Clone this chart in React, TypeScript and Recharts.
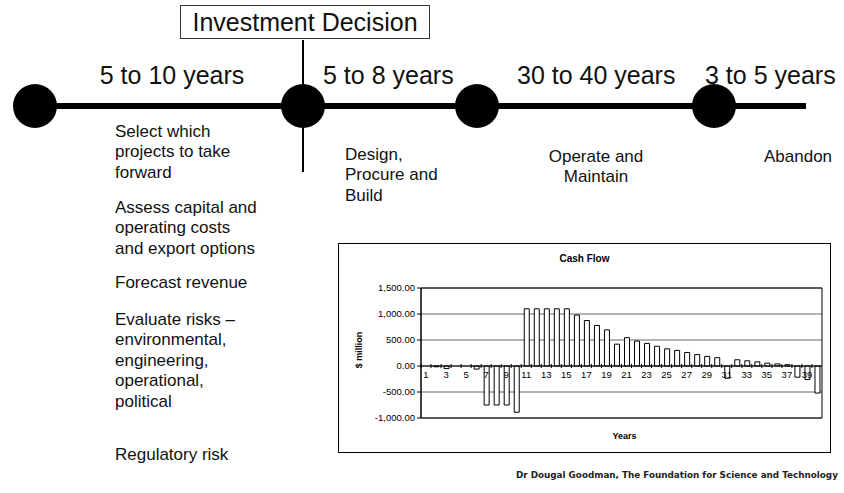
import { BarChart, Bar, XAxis, YAxis, CartesianGrid, ReferenceLine, ReferenceArea } from 'recharts';

// years 1..40 of the project life
const years = [
  '1', '2', '3', '4', '5', '6', '7', '8', '9', '10',
  '11', '12', '13', '14', '15', '16', '17', '18', '19', '20',
  '21', '22', '23', '24', '25', '26', '27', '28', '29', '30',
  '31', '32', '33', '34', '35', '36', '37', '38', '39', '40',
];

// cash flow, $ million
const cashFlow = [
  0, -15, -50, 0, 0, -60, -750, -750, -750, -890,
  1100, 1100, 1100, 1100, 1100, 980, 875, 780, 695, 420,
  545, 480, 435, 380, 330, 300, 260, 220, 185, 160,
  -235, 120, 100, 80, 55, 40, 25, -215, -260, -520,
];

const yTicks = [-1000, -500, 0, 500, 1000, 1500];

const phases = ['5 to 10 years', '5 to 8 years', '30 to 40 years', '3 to 5 years'];

const data = years.map((y, i) => ({ year: y, value: cashFlow[i] }));

const FONT = '"Liberation Sans", Arial, sans-serif';

// chart geometry (inner size of the bordered box)
const CHART_W = 491;
const CHART_H = 208;
const X_AXIS_H = 1;
const MARGIN = { top: 44, right: 8, bottom: 33, left: 22 };
const Y_AXIS_W = 60;
const PLOT_H = CHART_H - MARGIN.top - MARGIN.bottom - X_AXIS_H;
const PLOT_W = CHART_W - MARGIN.left - MARGIN.right - Y_AXIS_W;
const ZERO_FROM_BOTTOM = (PLOT_H * (0 - yTicks[0])) / (yTicks[yTicks.length - 1] - yTicks[0]);
const CAT_W = PLOT_W / years.length;

function YearTick(props: any) {
  const { x, y, payload, index } = props;
  const zy = y - ZERO_FROM_BOTTOM;
  return (
    <g>
      <line x1={x - CAT_W / 2} x2={x - CAT_W / 2} y1={zy - 2} y2={zy + 2} stroke="#000" />
      {index % 2 === 0 && (
        <text x={x} y={zy + 12} textAnchor="middle" fontSize={9.5} fontFamily={FONT} fill="#000">
          {payload.value}
        </text>
      )}
    </g>
  );
}

const fmt = (v: number) =>
  v.toLocaleString('en-US', { minimumFractionDigits: 2, maximumFractionDigits: 2 });

function Lines({ items, left, top, lh = 20.5, size = 17, align = 'left', width }: any) {
  return (
    <div
      style={{
        position: 'absolute',
        left,
        top: top - lh / 2,
        width,
        fontSize: size,
        lineHeight: `${lh}px`,
        textAlign: align,
        whiteSpace: 'nowrap',
        color: '#111',
      }}
    >
      {items.map((t: string, i: number) => (
        <div key={i}>{t}</div>
      ))}
    </div>
  );
}

export default function App() {
  const circles = [35, 303, 477, 714];
  return (
    <div
      style={{
        position: 'absolute',
        left: 0,
        top: 0,
        width: 844,
        height: 493,
        overflow: 'hidden',
        background: '#fff',
        fontFamily: FONT,
      }}
    >
      {/* timeline */}
      <svg width={844} height={493} style={{ position: 'absolute', left: 0, top: 0 }}>
        <line x1={303} x2={303} y1={40} y2={172} stroke="#000" strokeWidth={2} />
        <line x1={35} x2={806} y1={106} y2={106} stroke="#000" strokeWidth={6} />
        {circles.map((cx) => (
          <circle key={cx} cx={cx} cy={106} r={22} fill="#000" />
        ))}
      </svg>

      <div
        style={{
          position: 'absolute',
          left: 180,
          top: 5,
          width: 250,
          height: 34,
          border: '1px solid #333',
          boxSizing: 'border-box',
          fontSize: 25,
          lineHeight: '32px',
          textAlign: 'center',
          color: '#111',
        }}
      >
        Investment Decision
      </div>

      <Lines items={[phases[0]]} left={72} width={200} top={75} size={25} lh={28} align="center" />
      <Lines items={[phases[1]]} left={323} top={75} size={25} lh={28} />
      <Lines items={[phases[2]]} left={517} top={75} size={25} lh={28} />
      <Lines items={[phases[3]]} left={705} top={75} size={25} lh={28} />

      <Lines items={['Select which', 'projects to take', 'forward']} left={115} top={132} />
      <Lines items={['Design,', 'Procure and', 'Build']} left={345} top={155} />
      <Lines items={['Operate and', 'Maintain']} left={496} width={200} top={157} align="center" />
      <Lines items={['Abandon']} left={764} top={157} />

      <Lines items={['Assess capital and', 'operating costs', 'and export options']} left={115} top={208} />
      <Lines items={['Forecast revenue']} left={115} top={283} />
      <Lines
        items={['Evaluate risks –', 'environmental,', 'engineering,', 'operational,', 'political']}
        left={115}
        top={320}
      />
      <Lines items={['Regulatory risk']} left={115} top={455} />

      <div
        style={{
          position: 'absolute',
          left: 516,
          top: 470,
          fontFamily: '"DejaVu Sans", Verdana, sans-serif',
          fontSize: 8.8,
          fontWeight: 'bold',
          whiteSpace: 'nowrap',
          color: '#222',
        }}
      >
        Dr Dougal Goodman, The Foundation for Science and Technology
      </div>

      {/* cash flow chart */}
      <div
        style={{
          position: 'absolute',
          left: 338,
          top: 243,
          width: CHART_W + 2,
          height: CHART_H + 2,
          border: '1px solid #000',
          boxSizing: 'border-box',
        }}
      >
        <div
          style={{
            position: 'absolute',
            left: 0,
            right: 0,
            top: 9,
            textAlign: 'center',
            fontSize: 10,
            fontWeight: 'bold',
          }}
        >
          Cash Flow
        </div>
        <div
          style={{
            position: 'absolute',
            left: 20,
            top: 106,
            fontSize: 9,
            fontWeight: 'bold',
            transform: 'translate(-50%, -50%) rotate(-90deg)',
            whiteSpace: 'nowrap',
          }}
        >
          $ million
        </div>
        <div
          style={{
            position: 'absolute',
            left: 80,
            right: 0,
            top: 187,
            textAlign: 'center',
            fontSize: 9,
            fontWeight: 'bold',
          }}
        >
          Years
        </div>
        <BarChart width={CHART_W} height={CHART_H} data={data} margin={MARGIN} barSize={5}>
          <CartesianGrid vertical={false} stroke="#666" />
          <ReferenceArea y1={yTicks[0]} y2={yTicks[yTicks.length - 1]} fill="none" stroke="#000" />
          <XAxis
            dataKey="year"
            interval={0}
            axisLine={false}
            tickLine={false}
            tickSize={0}
            tickMargin={0}
            height={X_AXIS_H}
            tick={<YearTick />}
          />
          <YAxis
            domain={[yTicks[0], yTicks[yTicks.length - 1]]}
            ticks={yTicks}
            width={Y_AXIS_W}
            tickFormatter={fmt}
            tickSize={4}
            tick={{ fontSize: 9.5, fontFamily: FONT, fill: '#000' }}
            stroke="#000"
          />
          <ReferenceLine y={0} stroke="#000" />
          <Bar dataKey="value" fill="#fff" stroke="#000" strokeWidth={1} isAnimationActive={false} />
        </BarChart>
      </div>
    </div>
  );
}
